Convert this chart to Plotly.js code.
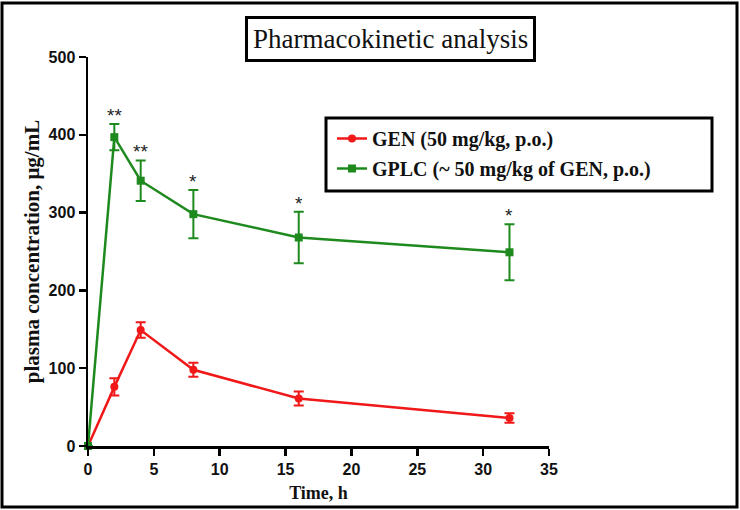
<!DOCTYPE html>
<html><head><meta charset="utf-8">
<script src="https://cdn.plot.ly/plotly-3.0.1.min.js"></script>
<style>body{margin:0;padding:0;background:#fff}#chart{width:740px;height:510px}</style>
</head><body><div id="chart"></div>
<script>
const time = [0, 2, 4, 8, 16, 32];
const genMean = [0, 76, 149, 98, 61, 36];
const genErr = [0, 11, 10, 9, 9, 6];
const gplcMean = [0, 397, 341, 298, 268, 249];
const gplcErr = [0, 17, 26, 31, 33, 36];
const sigMarks = ['', '**', '**', '*', '*', '*'];
const genName = 'GEN (50 mg/kg, p.o.)';
const gplcName = 'GPLC (~ 50 mg/kg of GEN, p.o.)';
const xTicks = [0, 5, 10, 15, 20, 25, 30, 35];
const yTicks = [0, 100, 200, 300, 400, 500];

const red = '#f01818';
const green = '#1e8a1e';
const serif = 'Liberation Serif';
const sans = 'Liberation Sans';

const traces = [
  {x: time, y: genMean, name: genName, legendgroup: 'a', type: 'scatter', mode: 'lines+markers',
   line: {color: red, width: 2.5}, marker: {symbol: 'circle', size: 8, color: red},
   error_y: {type: 'data', array: genErr, visible: true, color: red, thickness: 2, width: 5},
   cliponaxis: false},
  {x: time, y: gplcMean, name: gplcName, legendgroup: 'b', type: 'scatter', mode: 'lines+markers',
   line: {color: green, width: 2.5}, marker: {symbol: 'square', size: 8, color: green},
   error_y: {type: 'data', array: gplcErr, visible: true, color: green, thickness: 2, width: 5},
   cliponaxis: false}
];

const px2x = p => (p - 88) / 461;
const py2y = p => (446 - p) / 389;

const annotations = [];
time.forEach((t, i) => {
  if (sigMarks[i]) annotations.push({x: t, y: gplcMean[i] + gplcErr[i], xref: 'x', yref: 'y',
    text: sigMarks[i], showarrow: false, yanchor: 'bottom', yshift: -4,
    font: {family: sans, size: 19, color: '#222'}});
});
annotations.push({xref: 'paper', yref: 'paper', x: px2x(390), y: py2y(39), xanchor: 'center', yanchor: 'middle',
  text: 'Pharmacokinetic analysis', showarrow: false, bordercolor: '#000', borderwidth: 3,
  borderpad: 5, bgcolor: '#fff', font: {family: serif, size: 27, color: '#111'}});

const layout = {
  width: 740, height: 510,
  margin: {l: 88, r: 191, t: 57, b: 64},
  paper_bgcolor: '#fff', plot_bgcolor: '#fff',
  showlegend: true,
  legend: {x: px2x(332), y: py2y(119), xanchor: 'left', yanchor: 'top', bgcolor: 'rgba(0,0,0,0)',
    borderwidth: 0, itemwidth: 30, tracegroupgap: 1, traceorder: 'grouped',
    font: {family: serif, size: 20, color: '#111', weight: 'bold'}},
  xaxis: {range: [0, 35], tickvals: xTicks, ticktext: xTicks.map(String), showgrid: false, zeroline: false,
    showline: true, linecolor: '#000', linewidth: 2.5, ticks: 'outside', ticklen: 7, tickwidth: 2.5, tickcolor: '#000',
    tickfont: {family: sans, size: 16, color: '#111', weight: 'bold'},
    title: {text: 'Time, h', standoff: 10, font: {family: serif, size: 18, color: '#111', weight: 'bold'}}},
  yaxis: {range: [0, 500], tickvals: yTicks, ticktext: yTicks.map(String), showgrid: false, zeroline: false,
    showline: true, linecolor: '#000', linewidth: 2.5, ticks: 'outside', ticklen: 7, tickwidth: 2.5, tickcolor: '#000',
    tickfont: {family: sans, size: 16, color: '#111', weight: 'bold'},
    title: {text: 'plasma concentration, μg/mL', standoff: 3, font: {family: serif, size: 21, color: '#111', weight: 'bold'}}},
  annotations: annotations,
  shapes: [
    {type: 'rect', xref: 'paper', yref: 'paper', x0: px2x(2), x1: px2x(737), y0: py2y(507), y1: py2y(3),
     line: {color: '#000', width: 3}, layer: 'below'},
    {type: 'rect', xref: 'paper', yref: 'paper', x0: px2x(326), x1: px2x(712), y0: py2y(191), y1: py2y(118),
     line: {color: '#000', width: 3}, fillcolor: '#fff', layer: 'above'}
  ]
};

Plotly.newPlot('chart', traces, layout, {displayModeBar: false, staticPlot: true});
</script></body></html>
